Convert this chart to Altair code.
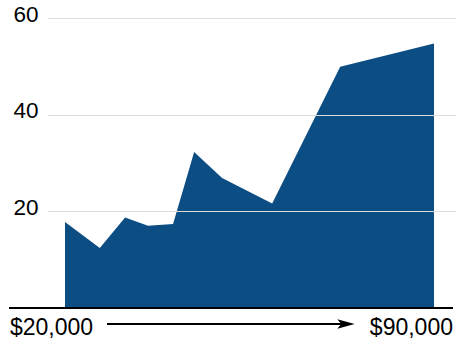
import altair as alt
import pandas as pd

income = [20000, 26600, 31400, 35750, 40500, 44500, 49800, 59300, 72200, 90000]
share = [17.8, 12.4, 18.7, 17.0, 17.4, 32.3, 26.9, 21.6, 49.9, 54.7]
y_ticks = [20, 40, 60]
x_labels = ["$20,000", "$90,000"]

df = pd.DataFrame({"income": income, "share": share})
FONT = "Liberation Sans"

xscale = alt.Scale(domain=[16775, 94173], nice=False, zero=False)
yscale = alt.Scale(domain=[0, 60], nice=False)

area = alt.Chart(df).mark_area(color="#0c4d84", opacity=1).encode(
    x=alt.X("income:Q", scale=xscale, axis=None),
    y=alt.Y("share:Q", scale=yscale,
            axis=alt.Axis(values=y_ticks, title=None, domain=False, ticks=False,
                          tickSize=0, labelPadding=10, labelFontSize=22.5,
                          labelFont=FONT, labelColor="#000", labelOffset=-4,
                          grid=True, gridColor="#dcdcdc", gridWidth=1.2, zindex=1)),
)

base_line = alt.Chart(df).mark_rule(color="#000", strokeWidth=2).encode(
    x=alt.value(-39), x2=alt.value(405), y=alt.datum(0, scale=yscale)
)

lbl = pd.DataFrame({"t": x_labels, "pos": ["left", "right"]})
left_lbl = alt.Chart(lbl[lbl.pos == "left"]).mark_text(
    align="left", baseline="middle", fontSize=23, font=FONT, color="#000"
).encode(text="t:N", x=alt.value(-38), y=alt.value(310))
right_lbl = alt.Chart(lbl[lbl.pos == "right"]).mark_text(
    align="right", baseline="middle", fontSize=23, font=FONT, color="#000"
).encode(text="t:N", x=alt.value(405), y=alt.value(310))

arrow_line = alt.Chart(df).mark_rule(color="#000", strokeWidth=1.5).encode(
    x=alt.value(59), x2=alt.value(298), y=alt.value(306)
)
arrow_head = alt.Chart(lbl.head(1)).mark_point(
    shape="M -1 -0.55 L 1 0 L -1 0.55 L -0.55 0 Z", filled=True, color="#000",
    size=300, opacity=1, strokeWidth=0
).encode(x=alt.value(298), y=alt.value(306))

chart = alt.layer(area, base_line, arrow_line, arrow_head, left_lbl, right_lbl).properties(
    width=408, height=290,
    padding={"left": 48, "top": 18, "right": 0, "bottom": 34},
    autosize=alt.AutoSizeParams(type="none"),
).configure(background="white").configure_view(stroke=None)

chart.save("out.html", embed_options={"renderer": "svg", "actions": False})
